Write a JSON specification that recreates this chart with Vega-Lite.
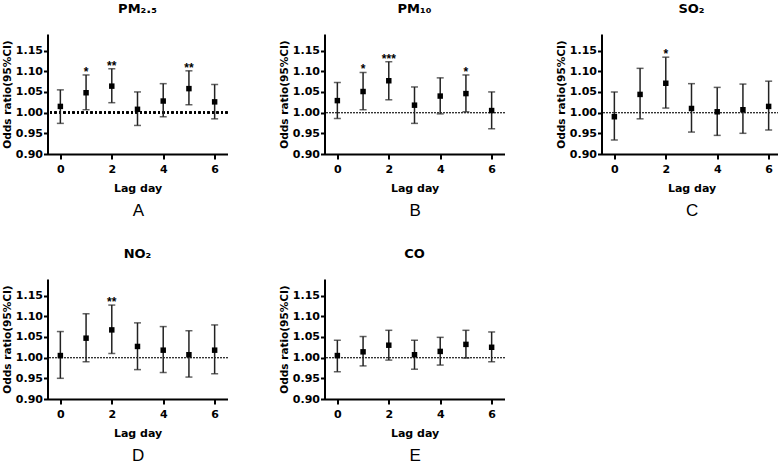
{
"$schema": "https://vega.github.io/schema/vega-lite/v6.json",
"padding": {"left": 1.5, "top": 3, "right": 0, "bottom": 0},
"background": "white",
"datasets": {"all": [
{"p":"PM2.5","lag":0,"or":1.015,"lo":0.974,"hi":1.055,"sig":""},
{"p":"PM2.5","lag":1,"or":1.048,"lo":1.007,"hi":1.091,"sig":"*"},
{"p":"PM2.5","lag":2,"or":1.064,"lo":1.024,"hi":1.106,"sig":"**"},
{"p":"PM2.5","lag":3,"or":1.008,"lo":0.969,"hi":1.050,"sig":""},
{"p":"PM2.5","lag":4,"or":1.028,"lo":0.990,"hi":1.070,"sig":""},
{"p":"PM2.5","lag":5,"or":1.058,"lo":1.019,"hi":1.101,"sig":"**"},
{"p":"PM2.5","lag":6,"or":1.026,"lo":0.985,"hi":1.068,"sig":""},
{"p":"PM10","lag":0,"or":1.029,"lo":0.986,"hi":1.073,"sig":""},
{"p":"PM10","lag":1,"or":1.051,"lo":1.007,"hi":1.097,"sig":"*"},
{"p":"PM10","lag":2,"or":1.077,"lo":1.031,"hi":1.123,"sig":"***"},
{"p":"PM10","lag":3,"or":1.018,"lo":0.974,"hi":1.062,"sig":""},
{"p":"PM10","lag":4,"or":1.040,"lo":0.997,"hi":1.084,"sig":""},
{"p":"PM10","lag":5,"or":1.046,"lo":1.002,"hi":1.091,"sig":"*"},
{"p":"PM10","lag":6,"or":1.005,"lo":0.961,"hi":1.050,"sig":""},
{"p":"SO2","lag":0,"or":0.990,"lo":0.934,"hi":1.050,"sig":""},
{"p":"SO2","lag":1,"or":1.044,"lo":0.985,"hi":1.107,"sig":""},
{"p":"SO2","lag":2,"or":1.071,"lo":1.011,"hi":1.134,"sig":"*"},
{"p":"SO2","lag":3,"or":1.010,"lo":0.953,"hi":1.070,"sig":""},
{"p":"SO2","lag":4,"or":1.002,"lo":0.945,"hi":1.061,"sig":""},
{"p":"SO2","lag":5,"or":1.007,"lo":0.950,"hi":1.069,"sig":""},
{"p":"SO2","lag":6,"or":1.015,"lo":0.958,"hi":1.076,"sig":""},
{"p":"NO2","lag":0,"or":1.005,"lo":0.950,"hi":1.063,"sig":""},
{"p":"NO2","lag":1,"or":1.047,"lo":0.990,"hi":1.106,"sig":""},
{"p":"NO2","lag":2,"or":1.067,"lo":1.010,"hi":1.127,"sig":"**"},
{"p":"NO2","lag":3,"or":1.027,"lo":0.971,"hi":1.084,"sig":""},
{"p":"NO2","lag":4,"or":1.018,"lo":0.964,"hi":1.075,"sig":""},
{"p":"NO2","lag":5,"or":1.007,"lo":0.953,"hi":1.065,"sig":""},
{"p":"NO2","lag":6,"or":1.018,"lo":0.961,"hi":1.079,"sig":""},
{"p":"CO","lag":0,"or":1.005,"lo":0.966,"hi":1.042,"sig":""},
{"p":"CO","lag":1,"or":1.014,"lo":0.980,"hi":1.051,"sig":""},
{"p":"CO","lag":2,"or":1.030,"lo":0.994,"hi":1.066,"sig":""},
{"p":"CO","lag":3,"or":1.007,"lo":0.972,"hi":1.042,"sig":""},
{"p":"CO","lag":4,"or":1.015,"lo":0.982,"hi":1.049,"sig":""},
{"p":"CO","lag":5,"or":1.032,"lo":0.999,"hi":1.066,"sig":""},
{"p":"CO","lag":6,"or":1.025,"lo":0.990,"hi":1.062,"sig":""}
]},
"spacing": 29,
"vconcat": [
{"hconcat": [
{"title": {"text": "A", "orient": "bottom", "anchor": "middle", "dx": 23, "offset": 10, "font": "Liberation Sans", "fontSize": 17, "fontWeight": "normal", "color": "black"},
 "vconcat": [{
  "width": 180, "height": 120,
  "title": {"text": "PM₂.₅", "frame": "group", "anchor": "middle", "offset": 18, "font": "DejaVu Sans", "fontSize": 13, "fontWeight": "bold", "color": "black"},
  "data": {"name": "all"},
  "transform": [{"filter": "datum.p === 'PM2.5'"}],
  "layer": [
   {"mark": {"type": "rule", "color": "black", "strokeWidth": 2, "strokeDash": [2, 2.5]},
    "encoding": {"y": {"datum": 1, "type": "quantitative", "scale": {"domain": [0.9, 1.19], "nice": false, "zero": false}, "axis": {"title": "Odds ratio(95%CI)", "values": [0.9, 0.95, 1, 1.05, 1.1, 1.15], "format": ".2f"}}}},
   {"mark": {"type": "rule", "color": "#222", "strokeWidth": 1.5},
    "encoding": {"x": {"field": "lag", "type": "quantitative", "scale": {"domain": [-0.5, 6.5], "nice": false, "zero": false}, "axis": {"title": "Lag day", "values": [0, 1, 2, 3, 4, 5, 6], "format": "d"}},
                 "y": {"field": "lo", "type": "quantitative", "axis": {"title": "Odds ratio(95%CI)", "values": [0.9, 0.95, 1, 1.05, 1.1, 1.15], "format": ".2f"}}, "y2": {"field": "hi"}}},
   {"mark": {"type": "tick", "orient": "horizontal", "size": 7, "thickness": 1.5, "color": "#222"},
    "encoding": {"x": {"field": "lag", "type": "quantitative"}, "y": {"field": "hi", "type": "quantitative", "axis": {"title": "Odds ratio(95%CI)", "values": [0.9, 0.95, 1, 1.05, 1.1, 1.15], "format": ".2f"}}}},
   {"mark": {"type": "tick", "orient": "horizontal", "size": 7, "thickness": 1.5, "color": "#222"},
    "encoding": {"x": {"field": "lag", "type": "quantitative"}, "y": {"field": "lo", "type": "quantitative", "axis": {"title": "Odds ratio(95%CI)", "values": [0.9, 0.95, 1, 1.05, 1.1, 1.15], "format": ".2f"}}}},
   {"mark": {"type": "point", "shape": "square", "filled": true, "size": 30, "color": "black", "opacity": 1},
    "encoding": {"x": {"field": "lag", "type": "quantitative"}, "y": {"field": "or", "type": "quantitative", "axis": {"title": "Odds ratio(95%CI)", "values": [0.9, 0.95, 1, 1.05, 1.1, 1.15], "format": ".2f"}}}},
   {"mark": {"type": "text", "font": "Liberation Sans", "fontWeight": "bold", "fontSize": 12, "baseline": "alphabetic", "dy": 1, "color": "black"},
    "encoding": {"x": {"field": "lag", "type": "quantitative"}, "y": {"field": "hi", "type": "quantitative", "axis": {"title": "Odds ratio(95%CI)", "values": [0.9, 0.95, 1, 1.05, 1.1, 1.15], "format": ".2f"}}, "text": {"field": "sig"}}}
  ]
 }]
},
{"title": {"text": "B", "orient": "bottom", "anchor": "middle", "dx": 23, "offset": 10, "font": "Liberation Sans", "fontSize": 17, "fontWeight": "normal", "color": "black"},
 "vconcat": [{
  "width": 180, "height": 120,
  "title": {"text": "PM₁₀", "frame": "group", "anchor": "middle", "offset": 18, "font": "DejaVu Sans", "fontSize": 13, "fontWeight": "bold", "color": "black"},
  "data": {"name": "all"},
  "transform": [{"filter": "datum.p === 'PM10'"}],
  "layer": [
   {"mark": {"type": "rule", "color": "#333", "strokeWidth": 1, "strokeDash": [1, 2]},
    "encoding": {"y": {"datum": 1, "type": "quantitative", "scale": {"domain": [0.9, 1.19], "nice": false, "zero": false}, "axis": {"title": "Odds ratio(95%CI)", "values": [0.9, 0.95, 1, 1.05, 1.1, 1.15], "format": ".2f"}}}},
   {"mark": {"type": "rule", "color": "#222", "strokeWidth": 1.5},
    "encoding": {"x": {"field": "lag", "type": "quantitative", "scale": {"domain": [-0.5, 6.5], "nice": false, "zero": false}, "axis": {"title": "Lag day", "values": [0, 1, 2, 3, 4, 5, 6], "format": "d"}},
                 "y": {"field": "lo", "type": "quantitative", "axis": {"title": "Odds ratio(95%CI)", "values": [0.9, 0.95, 1, 1.05, 1.1, 1.15], "format": ".2f"}}, "y2": {"field": "hi"}}},
   {"mark": {"type": "tick", "orient": "horizontal", "size": 7, "thickness": 1.5, "color": "#222"},
    "encoding": {"x": {"field": "lag", "type": "quantitative"}, "y": {"field": "hi", "type": "quantitative", "axis": {"title": "Odds ratio(95%CI)", "values": [0.9, 0.95, 1, 1.05, 1.1, 1.15], "format": ".2f"}}}},
   {"mark": {"type": "tick", "orient": "horizontal", "size": 7, "thickness": 1.5, "color": "#222"},
    "encoding": {"x": {"field": "lag", "type": "quantitative"}, "y": {"field": "lo", "type": "quantitative", "axis": {"title": "Odds ratio(95%CI)", "values": [0.9, 0.95, 1, 1.05, 1.1, 1.15], "format": ".2f"}}}},
   {"mark": {"type": "point", "shape": "square", "filled": true, "size": 30, "color": "black", "opacity": 1},
    "encoding": {"x": {"field": "lag", "type": "quantitative"}, "y": {"field": "or", "type": "quantitative", "axis": {"title": "Odds ratio(95%CI)", "values": [0.9, 0.95, 1, 1.05, 1.1, 1.15], "format": ".2f"}}}},
   {"mark": {"type": "text", "font": "Liberation Sans", "fontWeight": "bold", "fontSize": 12, "baseline": "alphabetic", "dy": 1, "color": "black"},
    "encoding": {"x": {"field": "lag", "type": "quantitative"}, "y": {"field": "hi", "type": "quantitative", "axis": {"title": "Odds ratio(95%CI)", "values": [0.9, 0.95, 1, 1.05, 1.1, 1.15], "format": ".2f"}}, "text": {"field": "sig"}}}
  ]
 }]
},
{"title": {"text": "C", "orient": "bottom", "anchor": "middle", "dx": 23, "offset": 10, "font": "Liberation Sans", "fontSize": 17, "fontWeight": "normal", "color": "black"},
 "vconcat": [{
  "width": 180, "height": 120,
  "title": {"text": "SO₂", "frame": "group", "anchor": "middle", "offset": 18, "font": "DejaVu Sans", "fontSize": 13, "fontWeight": "bold", "color": "black"},
  "data": {"name": "all"},
  "transform": [{"filter": "datum.p === 'SO2'"}],
  "layer": [
   {"mark": {"type": "rule", "color": "#333", "strokeWidth": 1, "strokeDash": [1, 2]},
    "encoding": {"y": {"datum": 1, "type": "quantitative", "scale": {"domain": [0.9, 1.19], "nice": false, "zero": false}, "axis": {"title": "Odds ratio(95%CI)", "values": [0.9, 0.95, 1, 1.05, 1.1, 1.15], "format": ".2f"}}}},
   {"mark": {"type": "rule", "color": "#222", "strokeWidth": 1.5},
    "encoding": {"x": {"field": "lag", "type": "quantitative", "scale": {"domain": [-0.5, 6.5], "nice": false, "zero": false}, "axis": {"title": "Lag day", "values": [0, 1, 2, 3, 4, 5, 6], "format": "d"}},
                 "y": {"field": "lo", "type": "quantitative", "axis": {"title": "Odds ratio(95%CI)", "values": [0.9, 0.95, 1, 1.05, 1.1, 1.15], "format": ".2f"}}, "y2": {"field": "hi"}}},
   {"mark": {"type": "tick", "orient": "horizontal", "size": 7, "thickness": 1.5, "color": "#222"},
    "encoding": {"x": {"field": "lag", "type": "quantitative"}, "y": {"field": "hi", "type": "quantitative", "axis": {"title": "Odds ratio(95%CI)", "values": [0.9, 0.95, 1, 1.05, 1.1, 1.15], "format": ".2f"}}}},
   {"mark": {"type": "tick", "orient": "horizontal", "size": 7, "thickness": 1.5, "color": "#222"},
    "encoding": {"x": {"field": "lag", "type": "quantitative"}, "y": {"field": "lo", "type": "quantitative", "axis": {"title": "Odds ratio(95%CI)", "values": [0.9, 0.95, 1, 1.05, 1.1, 1.15], "format": ".2f"}}}},
   {"mark": {"type": "point", "shape": "square", "filled": true, "size": 30, "color": "black", "opacity": 1},
    "encoding": {"x": {"field": "lag", "type": "quantitative"}, "y": {"field": "or", "type": "quantitative", "axis": {"title": "Odds ratio(95%CI)", "values": [0.9, 0.95, 1, 1.05, 1.1, 1.15], "format": ".2f"}}}},
   {"mark": {"type": "text", "font": "Liberation Sans", "fontWeight": "bold", "fontSize": 12, "baseline": "alphabetic", "dy": 1, "color": "black"},
    "encoding": {"x": {"field": "lag", "type": "quantitative"}, "y": {"field": "hi", "type": "quantitative", "axis": {"title": "Odds ratio(95%CI)", "values": [0.9, 0.95, 1, 1.05, 1.1, 1.15], "format": ".2f"}}, "text": {"field": "sig"}}}
  ]
 }]
}
], "spacing": 50},
{"hconcat": [
{"title": {"text": "D", "orient": "bottom", "anchor": "middle", "dx": 23, "offset": 10, "font": "Liberation Sans", "fontSize": 17, "fontWeight": "normal", "color": "black"},
 "vconcat": [{
  "width": 180, "height": 120,
  "title": {"text": "NO₂", "frame": "group", "anchor": "middle", "offset": 18, "font": "DejaVu Sans", "fontSize": 13, "fontWeight": "bold", "color": "black"},
  "data": {"name": "all"},
  "transform": [{"filter": "datum.p === 'NO2'"}],
  "layer": [
   {"mark": {"type": "rule", "color": "#333", "strokeWidth": 1, "strokeDash": [1, 2]},
    "encoding": {"y": {"datum": 1, "type": "quantitative", "scale": {"domain": [0.9, 1.19], "nice": false, "zero": false}, "axis": {"title": "Odds ratio(95%CI)", "values": [0.9, 0.95, 1, 1.05, 1.1, 1.15], "format": ".2f"}}}},
   {"mark": {"type": "rule", "color": "#222", "strokeWidth": 1.5},
    "encoding": {"x": {"field": "lag", "type": "quantitative", "scale": {"domain": [-0.5, 6.5], "nice": false, "zero": false}, "axis": {"title": "Lag day", "values": [0, 1, 2, 3, 4, 5, 6], "format": "d"}},
                 "y": {"field": "lo", "type": "quantitative", "axis": {"title": "Odds ratio(95%CI)", "values": [0.9, 0.95, 1, 1.05, 1.1, 1.15], "format": ".2f"}}, "y2": {"field": "hi"}}},
   {"mark": {"type": "tick", "orient": "horizontal", "size": 7, "thickness": 1.5, "color": "#222"},
    "encoding": {"x": {"field": "lag", "type": "quantitative"}, "y": {"field": "hi", "type": "quantitative", "axis": {"title": "Odds ratio(95%CI)", "values": [0.9, 0.95, 1, 1.05, 1.1, 1.15], "format": ".2f"}}}},
   {"mark": {"type": "tick", "orient": "horizontal", "size": 7, "thickness": 1.5, "color": "#222"},
    "encoding": {"x": {"field": "lag", "type": "quantitative"}, "y": {"field": "lo", "type": "quantitative", "axis": {"title": "Odds ratio(95%CI)", "values": [0.9, 0.95, 1, 1.05, 1.1, 1.15], "format": ".2f"}}}},
   {"mark": {"type": "point", "shape": "square", "filled": true, "size": 30, "color": "black", "opacity": 1},
    "encoding": {"x": {"field": "lag", "type": "quantitative"}, "y": {"field": "or", "type": "quantitative", "axis": {"title": "Odds ratio(95%CI)", "values": [0.9, 0.95, 1, 1.05, 1.1, 1.15], "format": ".2f"}}}},
   {"mark": {"type": "text", "font": "Liberation Sans", "fontWeight": "bold", "fontSize": 12, "baseline": "alphabetic", "dy": 1, "color": "black"},
    "encoding": {"x": {"field": "lag", "type": "quantitative"}, "y": {"field": "hi", "type": "quantitative", "axis": {"title": "Odds ratio(95%CI)", "values": [0.9, 0.95, 1, 1.05, 1.1, 1.15], "format": ".2f"}}, "text": {"field": "sig"}}}
  ]
 }]
},
{"title": {"text": "E", "orient": "bottom", "anchor": "middle", "dx": 23, "offset": 10, "font": "Liberation Sans", "fontSize": 17, "fontWeight": "normal", "color": "black"},
 "vconcat": [{
  "width": 180, "height": 120,
  "title": {"text": "CO", "frame": "group", "anchor": "middle", "offset": 18, "font": "DejaVu Sans", "fontSize": 13, "fontWeight": "bold", "color": "black"},
  "data": {"name": "all"},
  "transform": [{"filter": "datum.p === 'CO'"}],
  "layer": [
   {"mark": {"type": "rule", "color": "#333", "strokeWidth": 1, "strokeDash": [1, 2]},
    "encoding": {"y": {"datum": 1, "type": "quantitative", "scale": {"domain": [0.9, 1.19], "nice": false, "zero": false}, "axis": {"title": "Odds ratio(95%CI)", "values": [0.9, 0.95, 1, 1.05, 1.1, 1.15], "format": ".2f"}}}},
   {"mark": {"type": "rule", "color": "#222", "strokeWidth": 1.5},
    "encoding": {"x": {"field": "lag", "type": "quantitative", "scale": {"domain": [-0.5, 6.5], "nice": false, "zero": false}, "axis": {"title": "Lag day", "values": [0, 1, 2, 3, 4, 5, 6], "format": "d"}},
                 "y": {"field": "lo", "type": "quantitative", "axis": {"title": "Odds ratio(95%CI)", "values": [0.9, 0.95, 1, 1.05, 1.1, 1.15], "format": ".2f"}}, "y2": {"field": "hi"}}},
   {"mark": {"type": "tick", "orient": "horizontal", "size": 7, "thickness": 1.5, "color": "#222"},
    "encoding": {"x": {"field": "lag", "type": "quantitative"}, "y": {"field": "hi", "type": "quantitative", "axis": {"title": "Odds ratio(95%CI)", "values": [0.9, 0.95, 1, 1.05, 1.1, 1.15], "format": ".2f"}}}},
   {"mark": {"type": "tick", "orient": "horizontal", "size": 7, "thickness": 1.5, "color": "#222"},
    "encoding": {"x": {"field": "lag", "type": "quantitative"}, "y": {"field": "lo", "type": "quantitative", "axis": {"title": "Odds ratio(95%CI)", "values": [0.9, 0.95, 1, 1.05, 1.1, 1.15], "format": ".2f"}}}},
   {"mark": {"type": "point", "shape": "square", "filled": true, "size": 30, "color": "black", "opacity": 1},
    "encoding": {"x": {"field": "lag", "type": "quantitative"}, "y": {"field": "or", "type": "quantitative", "axis": {"title": "Odds ratio(95%CI)", "values": [0.9, 0.95, 1, 1.05, 1.1, 1.15], "format": ".2f"}}}},
   {"mark": {"type": "text", "font": "Liberation Sans", "fontWeight": "bold", "fontSize": 12, "baseline": "alphabetic", "dy": 1, "color": "black"},
    "encoding": {"x": {"field": "lag", "type": "quantitative"}, "y": {"field": "hi", "type": "quantitative", "axis": {"title": "Odds ratio(95%CI)", "values": [0.9, 0.95, 1, 1.05, 1.1, 1.15], "format": ".2f"}}, "text": {"field": "sig"}}}
  ]
 }]
}
], "spacing": 50}
],
"config": {
 "view": {"stroke": null},
 "axis": {"grid": false, "domainColor": "black", "domainWidth": 2, "tickColor": "black", "tickWidth": 2,
          "labelFont": "DejaVu Sans", "labelFontWeight": "bold", "labelFontSize": 11, "labelColor": "black", "labelOverlap": false,
          "titleFont": "DejaVu Sans", "titleFontWeight": "bold", "titleFontSize": 11, "titleColor": "black"},
 "axisX": {"tickSize": 5, "labelPadding": 4, "titlePadding": 8},
 "axisY": {"tickSize": 4, "labelPadding": 1, "titlePadding": 3, "titleFontSize": 10.5}
}
}
